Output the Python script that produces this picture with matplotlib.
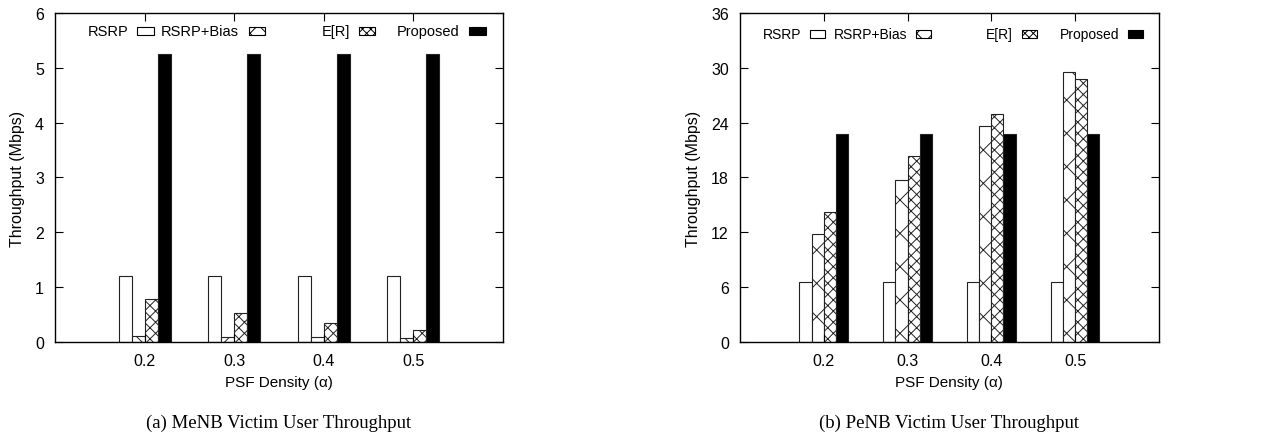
import matplotlib
matplotlib.use("Agg")
import matplotlib.pyplot as plt
from matplotlib.patches import Rectangle
import numpy as np

plt.rcParams['font.family'] = 'Liberation Sans'
plt.rcParams['font.size'] = 10
plt.rcParams['hatch.linewidth'] = 0.7

## Данные
densities = ["0.2", "0.3", "0.4", "0.5"]
series = ["RSRP", "RSRP+Bias", "E[R]", "Proposed"]

menb_rsrp = [1.2, 1.2, 1.2, 1.2]
menb_bias = [0.11, 0.10, 0.085, 0.067]
menb_er = [0.78, 0.52, 0.34, 0.21]
menb_proposed = [5.26, 5.26, 5.26, 5.26]

penb_rsrp = [6.57, 6.57, 6.57, 6.57]
penb_bias = [11.8, 17.7, 23.6, 29.5]
penb_er = [14.2, 20.4, 24.9, 28.8]
penb_proposed = [22.75, 22.75, 22.75, 22.75]

## Стили столбцов
styles = [
    dict(facecolor="white", hatch=None, lhatch=None),
    dict(facecolor="white", hatch="x", lhatch="xx"),
    dict(facecolor="white", hatch="xxx", lhatch="xxxx"),
    dict(facecolor="black", hatch=None, lhatch=None),
]
width = 0.145

fig = plt.figure(figsize=(12.67, 4.39), dpi=100)
ax1 = fig.add_axes([0.0434, 0.2187, 0.3536, 0.7494])
ax2 = fig.add_axes([0.584, 0.2187, 0.3307, 0.7494])


def draw_panel(ax, data, ymax, ystep, caption, text_ends, ly, lsize):
    x = np.arange(1, len(densities) + 1)
    for i, (vals, st) in enumerate(zip(data, styles)):
        ax.bar(x + (i - 1.5) * width, vals, width, color=st["facecolor"],
               hatch=st["hatch"], edgecolor="#222222", linewidth=0.8)
    ax.set_xlim(0, 5)
    ax.set_ylim(0, ymax)
    ax.set_xticks(x)
    ax.set_xticklabels(densities)
    ax.set_yticks(np.arange(0, ymax + 0.001, ystep))
    ax.tick_params(direction="in", length=6, top=True, right=True,
                   labelsize=11.5, pad=8)
    for s in ax.spines.values():
        s.set_linewidth(1.0)
    ax.set_xlabel("PSF Density (α)", fontsize=11, labelpad=5)
    ax.set_ylabel("Throughput (Mbps)", fontsize=11.5, labelpad=7)

    # легенда в стиле gnuplot: подпись, затем образец
    for name, st, tx in zip(series, styles, text_ends):
        ax.text(tx, ly, name, transform=ax.transAxes, ha="right",
                va="center", fontsize=lsize)
        ax.add_patch(Rectangle((tx + 0.021, ly - 0.012), 0.036, 0.024,
                               transform=ax.transAxes, facecolor=st["facecolor"],
                               hatch=st["lhatch"], edgecolor="black",
                               linewidth=0.8, clip_on=False))

    ax.text(0.5, -0.245, caption, transform=ax.transAxes, ha="center",
            va="center", fontsize=13.5, family="Liberation Serif")


draw_panel(ax1, [menb_rsrp, menb_bias, menb_er, menb_proposed], 6, 1,
           "(a) MeNB Victim User Throughput",
           [0.163, 0.411, 0.658, 0.904], 0.945, 10.5)
draw_panel(ax2, [penb_rsrp, penb_bias, penb_er, penb_proposed], 36, 6,
           "(b) PeNB Victim User Throughput",
           [0.147, 0.400, 0.652, 0.905], 0.936, 10)

fig.savefig("out.png", dpi=100)
